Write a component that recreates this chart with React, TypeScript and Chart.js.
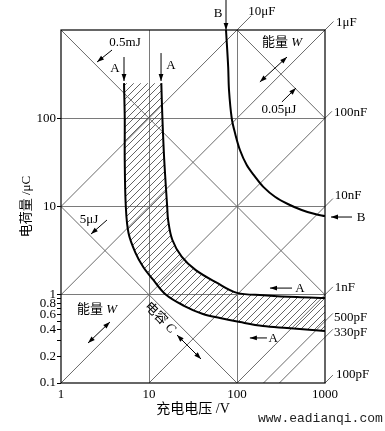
import React, { useEffect, useRef } from 'react';
import { Chart, registerables } from 'chart.js';
Chart.register(...registerables);

// ---- axes ----
const xTickValues = [1, 10, 100, 1000];
const xTickLabels = ['1', '10', '100', '1000'];
const xGridValues = [10, 100];
const yTickValues = [0.1, 0.2, 0.3, 0.4, 0.5, 0.6, 0.7, 0.8, 0.9, 1, 10, 100, 1000];
const yTickLabels = ['0.1', '0.2', '', '0.4', '', '0.6', '', '0.8', '', '1', '10', '100', ''];
const yGridValues = [1, 10, 100];

// ---- reference lines ----
const capacitanceUF = [10, 1, 0.1, 0.01, 0.001, 0.0005, 0.00033, 0.0001];
const capacitanceLabels = ['10μF', '1μF', '100nF', '10nF', '1nF', '500pF', '330pF', '100pF'];
const capacitanceEndV = [145, 1250, 1200, 1230, 1230, 1230, 1230, 1230];
const energyUJ = [5, 500, 50000];
const energyLabels = ['5μJ', '0.5mJ', '0.05μJ'];

// ---- curves (V, μC) ----
const curveAOuterV = [13.8, 14.2, 14.9, 16.1, 16.5, 18.4, 23.5, 34, 58, 100, 200, 480, 1000];
const curveAOuterQ = [250, 100, 33.6, 9.9, 7.0, 4.2, 2.7, 1.9, 1.38, 1.05, 0.99, 0.94, 0.92];
const curveAInnerV = [5.2, 5.3, 5.3, 5.45, 5.85, 7.0, 8.6, 11.2, 15.6, 25, 41, 64, 108, 197, 370, 1000];
const curveAInnerQ = [250, 100, 33, 10, 5.0, 3.0, 2.06, 1.47, 1.0, 0.75, 0.605, 0.545, 0.49, 0.442, 0.42, 0.388];
const curveBV = [75, 79.4, 81.1, 87.1, 94.9, 108, 129, 160, 199, 270, 383, 543, 770, 1000];
const curveBQ = [1000, 381, 209, 100, 68.1, 43.7, 29.5, 21.8, 16.7, 12.9, 10.6, 9.12, 8.22, 7.79];

// ---- annotations (data coordinates) ----
const arrowDefs = [
  { from: [3.8, 593], to: [2.57, 434], both: false },
  { from: [5.2, 494], to: [5.2, 264], both: false },
  { from: [13.7, 548], to: [13.7, 264], both: false },
  { from: [75, 2188], to: [75, 1000], both: false },
  { from: [324, 153], to: [468, 220], both: false },
  { from: [370, 494], to: [182, 258], both: true },
  { from: [2028, 7.6], to: [1170, 7.6], both: false },
  { from: [3.33, 7.03], to: [2.19, 4.87], both: false },
  { from: [3.6, 0.491], to: [2.03, 0.284], both: true },
  { from: [20.8, 0.35], to: [39.0, 0.187], both: true },
  { from: [422, 1.19], to: [237, 1.19], both: false },
  { from: [219, 0.324], to: [140, 0.324], both: false },
];
const capLabelPos = [
  [192, 1600, 'center'], [1334, 1200, 'left'], [1265, 115, 'left'], [1288, 13.2, 'left'],
  [1288, 1.22, 'left'], [1265, 0.545, 'left'], [1265, 0.369, 'left'], [1334, 0.126, 'left'],
];
const energyLabelPos = [[2.08, 7.03], [5.34, 713], [300, 124]];
const letterLabels = [
  { text: 'A', v: 4.11, q: 361 }, { text: 'A', v: 17.8, q: 391 },
  { text: 'B', v: 60.8, q: 1517 }, { text: 'B', v: 2566, q: 7.41 },
  { text: 'A', v: 520, q: 1.19 }, { text: 'A', v: 257, q: 0.315 },
];
const mixedLabels = [
  { text: '能量 ', ital: 'W', v: 324, q: 713, rot: 0 },
  { text: '能量 ', ital: 'W', v: 2.57, q: 0.671, rot: 0 },
  { text: '电容 ', ital: 'C', v: 13.3, q: 0.545, rot: 45 },
];

const SERIF = '"Liberation Serif", "Noto Sans CJK SC", serif';
const GRID = '#7a7a7a';
const DIAG = '#6a6a6a';

function trace(ctx: CanvasRenderingContext2D, pts: any[], reverse: boolean, move: boolean) {
  const p = reverse ? [...pts].reverse() : pts;
  if (move) ctx.moveTo(p[0].x, p[0].y); else ctx.lineTo(p[0].x, p[0].y);
  for (let i = 1; i < p.length; i++) {
    const a = p[i - 1], b = p[i];
    if (a.cp1x === undefined || b.cp1x === undefined) { ctx.lineTo(b.x, b.y); continue; }
    if (!reverse) ctx.bezierCurveTo(a.cp2x, a.cp2y, b.cp1x, b.cp1y, b.x, b.y);
    else ctx.bezierCurveTo(a.cp1x, a.cp1y, b.cp2x, b.cp2y, b.x, b.y);
  }
}

function head(ctx: CanvasRenderingContext2D, fx: number, fy: number, tx: number, ty: number) {
  const a = Math.atan2(ty - fy, tx - fx);
  const L = 7, W = 2.4;
  ctx.beginPath();
  ctx.moveTo(tx, ty);
  ctx.lineTo(tx - L * Math.cos(a) + W * Math.sin(a), ty - L * Math.sin(a) - W * Math.cos(a));
  ctx.lineTo(tx - L * Math.cos(a) - W * Math.sin(a), ty - L * Math.sin(a) + W * Math.cos(a));
  ctx.closePath();
  ctx.fill();
}

const hatchPlugin = {
  id: 'hatch',
  beforeDatasetsDraw(chart: any) {
    const ctx = chart.ctx as CanvasRenderingContext2D;
    const area = chart.chartArea;
    const outer = chart.getDatasetMeta(0).dataset;
    const inner = chart.getDatasetMeta(1).dataset;
    if (!outer || !inner) return;
    if (outer.updateControlPoints) outer.updateControlPoints(area, 'x');
    if (inner.updateControlPoints) inner.updateControlPoints(area, 'x');
    ctx.save();
    ctx.beginPath();
    ctx.rect(area.left, area.top, area.right - area.left, area.bottom - area.top);
    ctx.clip();
    ctx.beginPath();
    trace(ctx, outer.points, false, true);
    trace(ctx, inner.points, true, false);
    ctx.closePath();
    ctx.clip();
    ctx.strokeStyle = '#3c3c3c';
    ctx.lineWidth = 0.8;
    ctx.beginPath();
    const h = area.bottom - area.top;
    for (let x = area.left - h; x < area.right; x += 7) {
      ctx.moveTo(x, area.bottom);
      ctx.lineTo(x + h, area.top);
    }
    ctx.stroke();
    ctx.restore();
  },
  afterDatasetsDraw(chart: any) {
    const ctx = chart.ctx as CanvasRenderingContext2D;
    const xs = chart.scales.x, ys = chart.scales.y;
    const X = (v: number) => xs.getPixelForValue(v);
    const Y = (q: number) => ys.getPixelForValue(q);
    const area = chart.chartArea;
    ctx.save();
    // frame
    ctx.strokeStyle = '#000';
    ctx.lineWidth = 1.2;
    ctx.strokeRect(area.left, area.top, area.right - area.left, area.bottom - area.top);
    // arrows
    ctx.lineWidth = 1;
    ctx.fillStyle = '#000';
    for (const a of arrowDefs) {
      const x1 = X(a.from[0]), y1 = Y(a.from[1]), x2 = X(a.to[0]), y2 = Y(a.to[1]);
      ctx.beginPath(); ctx.moveTo(x1, y1); ctx.lineTo(x2, y2); ctx.stroke();
      head(ctx, x1, y1, x2, y2);
      if (a.both) head(ctx, x2, y2, x1, y1);
    }
    // texts
    ctx.textBaseline = 'middle';
    ctx.font = `13px ${SERIF}`;
    capacitanceLabels.forEach((t, i) => {
      const p = capLabelPos[i];
      ctx.textAlign = p[2] as CanvasTextAlign;
      ctx.fillText(t, X(p[0] as number), Y(p[1] as number));
    });
    ctx.textAlign = 'center';
    energyLabels.forEach((t, i) => {
      const p = energyLabelPos[i];
      ctx.fillText(t, X(p[0]), Y(p[1]));
    });
    for (const l of letterLabels) ctx.fillText(l.text, X(l.v), Y(l.q));
    for (const m of mixedLabels) {
      ctx.save();
      ctx.translate(X(m.v), Y(m.q));
      ctx.rotate((m.rot * Math.PI) / 180);
      ctx.font = `13px ${SERIF}`;
      const w1 = ctx.measureText(m.text).width;
      ctx.font = `italic 13px ${SERIF}`;
      const w2 = ctx.measureText(m.ital).width;
      const x0 = -(w1 + w2) / 2;
      ctx.textAlign = 'left';
      ctx.font = `13px ${SERIF}`;
      ctx.fillText(m.text, x0, 0);
      ctx.font = `italic 13px ${SERIF}`;
      ctx.fillText(m.ital, x0 + w1, 0);
      ctx.restore();
    }
    // watermark
    ctx.font = '13px "Liberation Mono", monospace';
    ctx.textAlign = 'left';
    ctx.fillStyle = '#222';
    ctx.fillText('www.eadianqi.com', chart.width - 127, chart.height - 12);
    ctx.restore();
  },
};

export default function App() {
  const ref = useRef<HTMLCanvasElement>(null);
  useEffect(() => {
    if (!ref.current) return;
    const toPts = (vs: number[], qs: number[]) => vs.map((v, i) => ({ x: v, y: qs[i] }));
    const curveStyle = { showLine: true, pointRadius: 0, borderColor: '#000', borderWidth: 2, tension: 0.35, fill: false, order: 0 };
    const lineStyle = { showLine: true, pointRadius: 0, borderColor: DIAG, borderWidth: 1, fill: false, order: 1, clip: false as any };
    const capSets = capacitanceUF.map((c, i) => {
      const v0 = Math.max(1, 0.1 / c);
      return { ...lineStyle, label: capacitanceLabels[i], data: [{ x: v0, y: c * v0 }, { x: capacitanceEndV[i], y: c * capacitanceEndV[i] }] };
    });
    const energySets = energyUJ.map((w, i) => {
      const v0 = Math.max(1, (2 * w) / 1000);
      const v1 = Math.min(1000, (2 * w) / 0.1);
      return { ...lineStyle, label: energyLabels[i], data: [{ x: v0, y: (2 * w) / v0 }, { x: v1, y: (2 * w) / v1 }] };
    });
    const chart = new Chart(ref.current, {
      type: 'scatter',
      data: {
        datasets: [
          { ...curveStyle, label: 'A outer', data: toPts(curveAOuterV, curveAOuterQ) },
          { ...curveStyle, label: 'A inner', data: toPts(curveAInnerV, curveAInnerQ) },
          { ...curveStyle, label: 'B', data: toPts(curveBV, curveBQ) },
          ...capSets,
          ...energySets,
        ] as any,
      },
      options: {
        animation: false,
        responsive: false,
        devicePixelRatio: 1,
        events: [],
        layout: { padding: { left: 0, top: 30, right: 60, bottom: 0 } },
        plugins: { legend: { display: false }, tooltip: { enabled: false } },
        scales: {
          x: {
            type: 'logarithmic',
            min: 1,
            max: 1000,
            afterBuildTicks: (s: any) => { s.ticks = xTickValues.map((value) => ({ value })); },
            afterFit: (s: any) => { s.height = 48; },
            border: { display: false },
            grid: {
              drawTicks: false,
              color: (c: any) => (xGridValues.includes(c.tick?.value) ? GRID : 'rgba(0,0,0,0)'),
              lineWidth: 1,
            },
            ticks: {
              autoSkip: false,
              maxRotation: 0,
              padding: 4,
              color: '#000',
              font: { family: SERIF, size: 13 },
              callback: (_v: any, i: number) => xTickLabels[i],
            },
            title: { display: true, text: '充电电压 /V', color: '#000', font: { family: SERIF, size: 14 }, padding: { top: 0, bottom: 13 } },
          },
          y: {
            type: 'logarithmic',
            min: 0.1,
            max: 1000,
            afterBuildTicks: (s: any) => { s.ticks = yTickValues.map((value) => ({ value })); },
            afterFit: (s: any) => { s.width = 61; },
            border: { display: false },
            grid: {
              tickLength: 4,
              color: (c: any) => (yGridValues.includes(c.tick?.value) ? GRID : 'rgba(0,0,0,0)'),
              tickColor: (c: any) => (c.tick?.value === 1000 ? 'rgba(0,0,0,0)' : '#000'),
              lineWidth: 1,
            },
            ticks: {
              autoSkip: false,
              padding: 1,
              color: '#000',
              font: { family: SERIF, size: 13 },
              callback: (_v: any, i: number) => yTickLabels[i],
            },
            title: { display: true, text: '电荷量 /μC', color: '#000', font: { family: SERIF, size: 13 }, padding: { top: 19, bottom: 0 } },
          },
        },
      } as any,
      plugins: [hatchPlugin],
    });
    return () => chart.destroy();
  }, []);
  return (
    <div style={{ position: 'fixed', left: 0, top: 0, width: 385, height: 431, background: '#fff' }}>
      <canvas ref={ref} width={385} height={431} style={{ width: 385, height: 431, display: 'block' }} />
    </div>
  );
}
